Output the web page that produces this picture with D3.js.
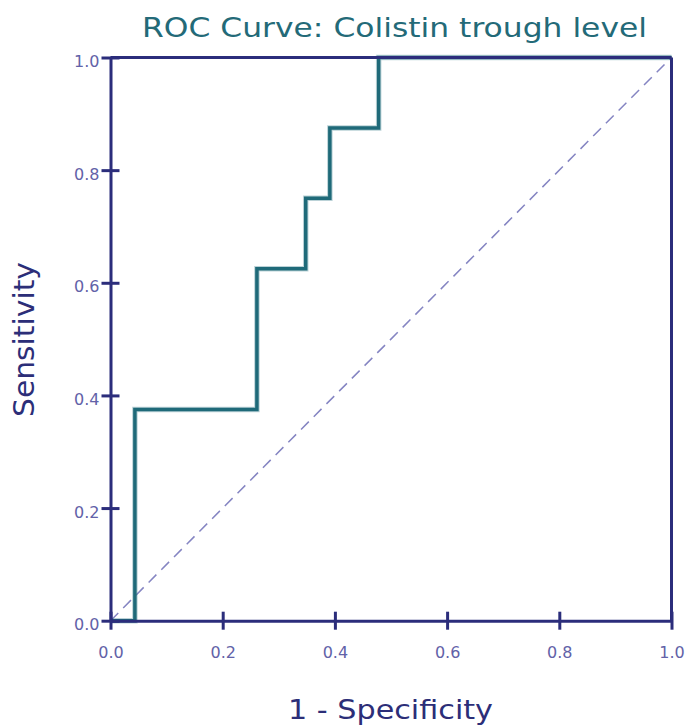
<!DOCTYPE html>
<html>
<head>
<meta charset="utf-8">
<script src="https://cdn.jsdelivr.net/npm/d3@7"></script>
<style>
  html, body { margin: 0; padding: 0; background: #ffffff; }
  svg { display: block; }
</style>
</head>
<body>
<svg id="chart" width="687" height="727"></svg>
<script>
// ---- data ----
const titleText = "ROC Curve: Colistin trough level";
const xLabelText = "1 - Specificity";
const yLabelText = "Sensitivity";
const xTickValues = [0, 0.2, 0.4, 0.6, 0.8, 1.0];
const yTickValues = [0, 0.2, 0.4, 0.6, 0.8, 1.0];
const rocFPR = [0, 0.0435, 0.0435, 0.261, 0.261, 0.348, 0.348, 0.391, 0.391, 0.478, 0.478, 1.0];
const rocTPR = [0, 0, 0.375, 0.375, 0.625, 0.625, 0.75, 0.75, 0.875, 0.875, 1.0, 1.0];
const refLineX = [0, 1];
const refLineY = [0, 1];

// ---- layout ----
const svg = d3.select("#chart");
const plotLeft = 110.5, plotRight = 671.5, plotTop = 57.5, plotBottom = 620.7;
const navy = "#2b2d7b";
const teal = "#1f6a79";

const x = d3.scaleLinear().domain([0, 1]).range([plotLeft, plotRight]);
const y = d3.scaleLinear().domain([0, 1]).range([plotBottom, plotTop]);

// diagonal reference
svg.append("path")
  .datum(refLineX.map((d, i) => [d, refLineY[i]]))
  .attr("d", d3.line().x(d => x(d[0])).y(d => y(d[1])))
  .attr("fill", "none")
  .attr("stroke", "#8585c2")
  .attr("stroke-width", 1.5)
  .attr("stroke-dasharray", "11,7");

// ROC step curve
const rocPts = rocFPR.map((d, i) => [d, rocTPR[i]]);
svg.append("path")
  .datum(rocPts)
  .attr("d", d3.line().x(d => x(d[0])).y(d => y(d[1])))
  .attr("fill", "none")
  .attr("stroke", teal)
  .attr("stroke-opacity", 0.3)
  .attr("stroke-width", 5.5);
svg.append("path")
  .datum(rocPts)
  .attr("d", d3.line().x(d => x(d[0])).y(d => y(d[1])))
  .attr("fill", "none")
  .attr("stroke", teal)
  .attr("stroke-width", 3.5);

// frame (top & right)
svg.append("line").attr("x1", x(0)).attr("x2", x(1)).attr("y1", y(1)).attr("y2", y(1))
  .attr("stroke", navy).attr("stroke-width", 3);
svg.append("line").attr("x1", x(1)).attr("x2", x(1)).attr("y1", y(1)).attr("y2", y(0))
  .attr("stroke", navy).attr("stroke-width", 3);

// axes
const xAxis = d3.axisBottom(x).tickValues(xTickValues).tickFormat(d3.format(".1f"))
  .tickSizeInner(9).tickSizeOuter(0).tickPadding(17);
const gx = svg.append("g").attr("transform", `translate(0,${plotBottom})`).call(xAxis);
const yAxis = d3.axisLeft(y).tickValues(yTickValues).tickFormat(d3.format(".1f"))
  .tickSizeInner(9).tickSizeOuter(0).tickPadding(11);
const gy = svg.append("g").attr("transform", `translate(${plotLeft},0)`).call(yAxis);

[gx, gy].forEach(g => {
  g.select(".domain").attr("stroke", navy).attr("stroke-width", 3);
  g.selectAll(".tick line").attr("stroke", navy).attr("stroke-width", 3);
  g.selectAll(".tick text")
    .attr("fill", "#6262a8")
    .attr("font-family", "DejaVu Sans")
    .attr("font-size", 16);
});
// ticks crossing the axis
gx.selectAll(".tick line").attr("y1", -9).attr("y2", 9);
gy.selectAll(".tick line").attr("x1", -9).attr("x2", 9);
gy.selectAll(".tick text").attr("x", -11).attr("dy", null).attr("y", 9);

// title
svg.append("text")
  .attr("x", 142).attr("y", 36.7)
  .attr("font-family", "DejaVu Sans")
  .attr("font-size", 27)
  .attr("fill", "#236a78")
  .attr("textLength", 505)
  .attr("lengthAdjust", "spacingAndGlyphs")
  .text(titleText);

// x label
svg.append("text")
  .attr("x", 288).attr("y", 719)
  .attr("font-family", "DejaVu Sans")
  .attr("font-size", 26)
  .attr("fill", "#2c2e78")
  .attr("textLength", 205)
  .attr("lengthAdjust", "spacingAndGlyphs")
  .text(xLabelText);

// y label
svg.append("text")
  .attr("transform", "translate(34,417) rotate(-90)")
  .attr("font-family", "DejaVu Sans")
  .attr("font-size", 28)
  .attr("fill", "#2c2e78")
  .attr("textLength", 155)
  .attr("lengthAdjust", "spacingAndGlyphs")
  .text(yLabelText);
</script>
</body>
</html>
